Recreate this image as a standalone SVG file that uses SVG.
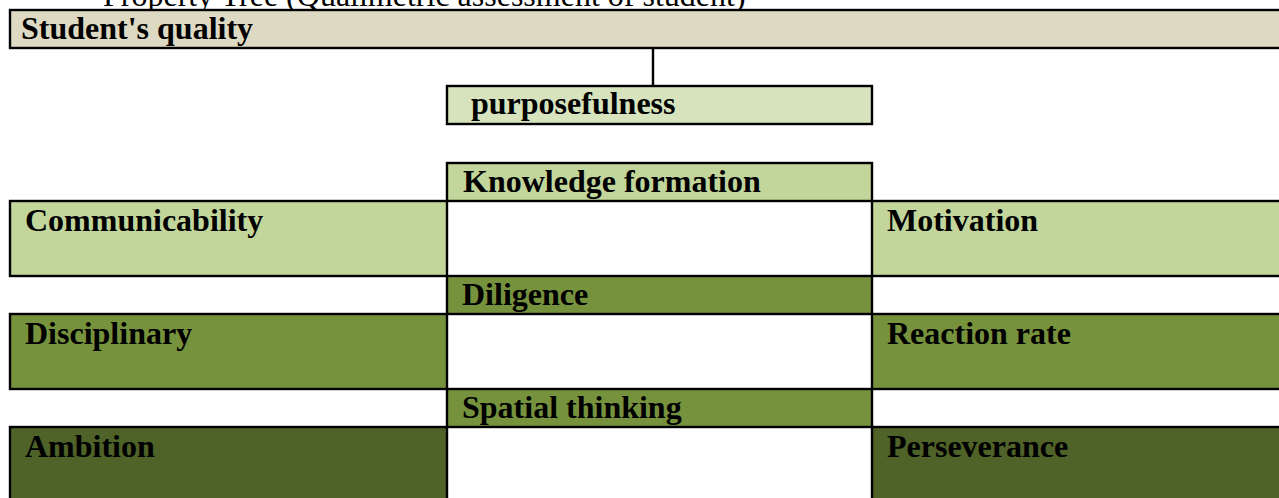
<svg xmlns="http://www.w3.org/2000/svg" width="1279" height="498" viewBox="0 0 1279 498">
  <style>
    .box { stroke: #000; stroke-width: 2.4; }
    .root { fill: #DDD9C3; }
    .pale { fill: #D6E3BC; }
    .light { fill: #C2D69B; }
    .mid { fill: #76923C; }
    .dark { fill: #4F6228; }
    .label { font-family: "Liberation Serif", "Times New Roman", serif; font-size: 32px; font-weight: bold; fill: #000; }
    .title { font-family: "Liberation Serif", "Times New Roman", serif; font-size: 32px; fill: #000; }
    .link { stroke: #000; stroke-width: 2.4; fill: none; }
  </style>
  <rect width="1279" height="498" fill="#FFFFFF"/>

  <text class="title" x="103" y="6">Property Tree (Qualimetric assessment of student)</text>

  <g id="connectors">
    <line class="link" x1="653" y1="48" x2="653" y2="86"/>
  </g>

  <g id="students-quality">
    <rect class="box root" x="10" y="10" width="1290" height="38"/>
    <text class="label" x="21" y="39">Student's quality</text>
  </g>

  <g id="purposefulness">
    <rect class="box pale" x="447" y="86" width="425" height="38"/>
    <text class="label" x="471" y="114">purposefulness</text>
  </g>

  <g id="knowledge-formation">
    <rect class="box light" x="447" y="163" width="425" height="38"/>
    <text class="label" x="463" y="192">Knowledge formation</text>
  </g>

  <g id="communicability">
    <rect class="box light" x="10" y="201" width="437" height="75"/>
    <text class="label" x="25" y="231">Communicability</text>
  </g>

  <g id="motivation">
    <rect class="box light" x="872" y="201" width="430" height="75"/>
    <text class="label" x="887" y="231">Motivation</text>
  </g>

  <g id="diligence">
    <rect class="box mid" x="447" y="276" width="425" height="38"/>
    <text class="label" x="462" y="305">Diligence</text>
  </g>

  <g id="disciplinary">
    <rect class="box mid" x="10" y="314" width="437" height="75"/>
    <text class="label" x="25" y="344">Disciplinary</text>
  </g>

  <g id="reaction-rate">
    <rect class="box mid" x="872" y="314" width="430" height="75"/>
    <text class="label" x="887" y="344">Reaction rate</text>
  </g>

  <g id="spatial-thinking">
    <rect class="box mid" x="447" y="389" width="425" height="38"/>
    <text class="label" x="462" y="418">Spatial thinking</text>
  </g>

  <g id="ambition">
    <rect class="box dark" x="10" y="427" width="437" height="80"/>
    <text class="label" x="25" y="457">Ambition</text>
  </g>

  <g id="perseverance">
    <rect class="box dark" x="872" y="427" width="430" height="80"/>
    <text class="label" x="887" y="457">Perseverance</text>
  </g>
</svg>
